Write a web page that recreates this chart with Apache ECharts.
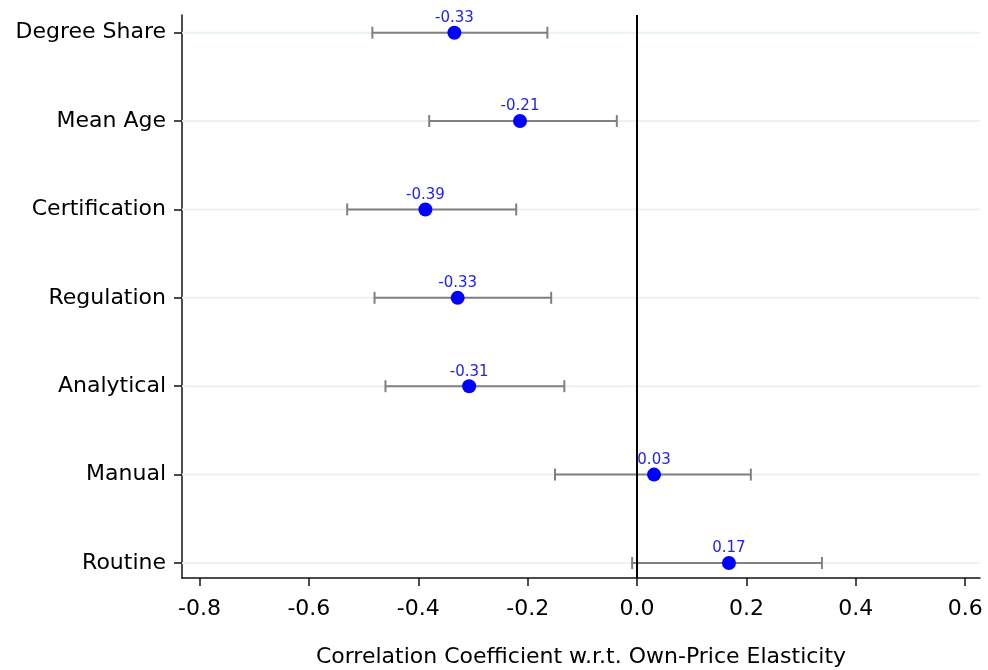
<!DOCTYPE html>
<html>
<head>
<meta charset="utf-8">
<script src="https://cdn.jsdelivr.net/npm/echarts@6/dist/echarts.min.js"></script>
<style>html,body{margin:0;padding:0;background:#fff}#c{width:988px;height:670px}</style>
</head>
<body>
<div id="c"></div>
<script>
// Categories from top to bottom
const categories = ["Degree Share", "Mean Age", "Certification", "Regulation", "Analytical", "Manual", "Routine"];
const estimates = [-0.334, -0.214, -0.387, -0.328, -0.307, 0.031, 0.168];
const ciLower = [-0.484, -0.380, -0.530, -0.480, -0.460, -0.150, -0.009];
const ciUpper = [-0.164, -0.037, -0.221, -0.157, -0.133, 0.208, 0.338];
const xTicks = [-0.8, -0.6, -0.4, -0.2, 0.0, 0.2, 0.4, 0.6];

const n = categories.length;
const yPos = categories.map((c, i) => n - i); // Degree Share = 7 ... Routine = 1
const yTicks = yPos.slice();

const chart = echarts.init(document.getElementById('c'));
const font = '"DejaVu Sans", "Liberation Sans", Arial, sans-serif';

const option = {
  animation: false,
  grid: { left: 182, right: 8, top: 15, bottom: 92, containLabel: false, outerBoundsMode: 'none' },
  xAxis: {
    type: 'value',
    min: -0.832, max: 0.627,
    name: 'Correlation Coefficient w.r.t. Own-Price Elasticity',
    nameLocation: 'middle', nameGap: 68,
    nameTextStyle: { fontFamily: font, fontSize: 22, color: '#000' },
    axisLine: { show: true, onZero: false, lineStyle: { color: '#111', width: 1.5 } },
    axisTick: { show: true, length: 8, customValues: xTicks, lineStyle: { color: '#111', width: 1.5 } },
    axisLabel: { customValues: xTicks, margin: 20, fontFamily: font, fontSize: 22, color: '#000',
      formatter: v => v.toFixed(1) },
    splitLine: { show: false }
  },
  yAxis: {
    type: 'value',
    min: 0.83, max: 7.2,
    axisLine: { show: true, onZero: false, lineStyle: { color: '#111', width: 1.5 } },
    axisTick: { show: true, length: 8, customValues: yTicks, lineStyle: { color: '#111', width: 1.5 } },
    axisLabel: { customValues: yTicks, margin: 16, fontFamily: font, fontSize: 22, color: '#000',
      formatter: v => categories[n - Math.round(v)] },
    splitLine: { show: false }
  },
  series: [
    {
      type: 'custom',
      silent: true,
      data: yPos.map(y => [y]),
      renderItem: function (params, api) {
        const y = api.value(0);
        const cs = params.coordSys;
        const p = api.coord([0, y]);
        return {
          type: 'line', z2: 0,
          shape: { x1: cs.x, y1: p[1], x2: cs.x + cs.width, y2: p[1] },
          style: { stroke: '#eaf2f4', lineWidth: 2 }
        };
      },
      z: 1
    },
    {
      type: 'custom',
      silent: true,
      data: yPos.map((y, i) => [ciLower[i], ciUpper[i], y]),
      renderItem: function (params, api) {
        const lo = api.coord([api.value(0), api.value(2)]);
        const hi = api.coord([api.value(1), api.value(2)]);
        const h = 6;
        const st = { stroke: '#808080', lineWidth: 2 };
        return {
          type: 'group',
          children: [
            { type: 'line', shape: { x1: lo[0], y1: lo[1], x2: hi[0], y2: hi[1] }, style: st },
            { type: 'line', shape: { x1: lo[0], y1: lo[1] - h, x2: lo[0], y2: lo[1] + h }, style: st },
            { type: 'line', shape: { x1: hi[0], y1: hi[1] - h, x2: hi[0], y2: hi[1] + h }, style: st }
          ]
        };
      },
      z: 3
    },
    {
      type: 'scatter',
      data: yPos.map((y, i) => [estimates[i], y]),
      symbol: 'circle',
      symbolSize: 14,
      itemStyle: { color: '#0000ff', opacity: 1 },
      label: {
        show: true, position: 'top', distance: 0,
        fontFamily: font, fontSize: 15, color: '#2020ff',
        formatter: p => p.value[0].toFixed(2)
      },
      markLine: {
        silent: true, symbol: 'none',
        label: { show: false },
        lineStyle: { color: '#000', width: 2, type: 'solid' },
        data: [{ xAxis: 0 }]
      },
      z: 5
    }
  ]
};
chart.setOption(option);
</script>
</body>
</html>
